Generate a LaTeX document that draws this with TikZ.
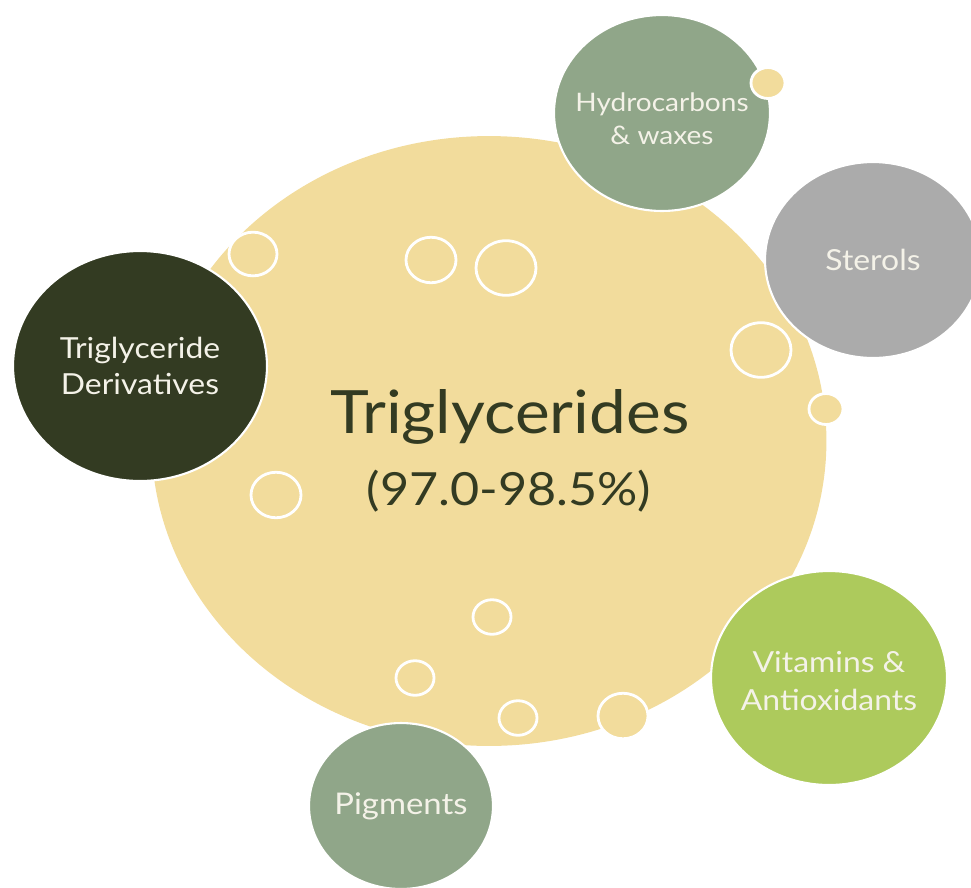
\documentclass[tikz,border=0pt]{standalone}
\usepackage{fontspec}
\setmainfont{Lato}[FakeStretch=1.1]
\usepackage{tikz}
\usetikzlibrary{shapes.geometric}
\usepackage{xcolor}

\definecolor{oilyellow}{HTML}{F2DC9C}
\definecolor{darkolive}{HTML}{333B22}
\definecolor{sage}{HTML}{90A689}
\definecolor{sterolgray}{HTML}{ABABAB}
\definecolor{limegreen}{HTML}{ADCA5C}
\definecolor{paletext}{HTML}{F4F2E8}

\begin{document}
\begin{tikzpicture}[
      x=0.02cm, y=-0.02cm,
      every node/.style={inner sep=0pt, outer sep=0pt},
      sat/.style={ellipse, draw=white, line width=1.2pt},
      lbl/.style={align=center, text=paletext, font=\fontsize{16.5}{20.5}\selectfont},
      bubble/.style={fill=oilyellow, draw=white, line width=1.6pt},
      title/.style={anchor=base, text=darkolive}
    ]
      \useasboundingbox (0,0) rectangle (971,887);

      % main body
      \node[ellipse, fill=oilyellow, minimum width=13.5cm, minimum height=12.2cm] (oil) at (489,441) {};
      \node[title, font=\fontsize{34}{40}\selectfont] (tri) at (510,433) {Triglycerides};
      \node[title, font=\fontsize{26}{32}\selectfont] (pct) at (509,505) {(97.0-98.5\%)};

      % minor components
      \node[sat, fill=sage, minimum width=4.32cm, minimum height=3.92cm,
            label={[lbl, font=\fontsize{14.5}{19}\selectfont, yshift=-0.12cm]center:{Hydrocarbons\\\& waxes}}] (hydro) at (662,113) {};
      \node[sat, fill=sterolgray, minimum width=4.32cm, minimum height=3.92cm,
            label={[lbl]center:Sterols}] (sterols) at (873,260) {};
      \node[sat, fill=darkolive, minimum width=5.08cm, minimum height=4.6cm,
            label={[lbl]center:{Triglyceride\\Derivatives}}] (deriv) at (140,366) {};
      \node[sat, fill=limegreen, minimum width=4.72cm, minimum height=4.28cm,
            label={[lbl, font=\fontsize{16.5}{21.5}\selectfont, yshift=-0.06cm]center:{Vitamins \&\\Antioxidants}}] (vitamins) at (829,678) {};
      \node[sat, fill=sage, minimum width=3.68cm, minimum height=3.32cm,
            label={[lbl, font=\fontsize{17}{21}\selectfont]center:Pigments}] (pigments) at (401,806) {};

      % bubbles
      \foreach \cx/\cy/\r in {253/254/24, 431/260/25, 506/268/30, 761/350/30,
                              826/409/17, 768/83/17, 276/495/25, 492/617/19,
                              415/678/19, 518/718/19, 623/716/25}
        \draw[bubble] (\cx,\cy) ellipse [x radius=\r*0.02cm, y radius=\r*0.0182cm];
    \end{tikzpicture}
\end{document}
